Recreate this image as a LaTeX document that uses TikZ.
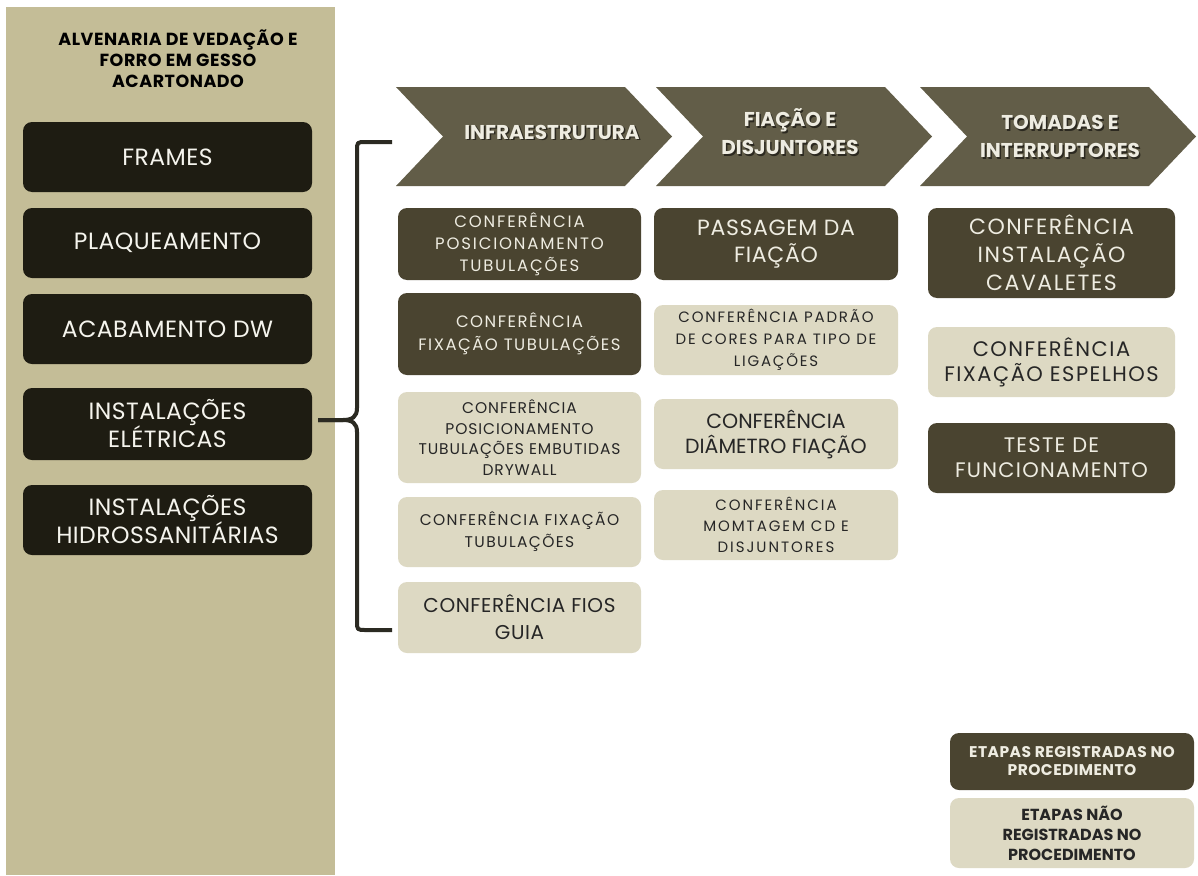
\documentclass[tikz,border=0pt]{standalone}
\usepackage{fontspec}
\setmainfont{Poppins}
\usetikzlibrary{calc}

\definecolor{panel}{HTML}{C4BD97}
\definecolor{ink}{HTML}{1E1C12}
\definecolor{olive}{HTML}{4A4430}
\definecolor{sand}{HTML}{DDD9C3}
\definecolor{chevron}{HTML}{625D48}
\definecolor{cream}{HTML}{EEECE1}
\definecolor{textdark}{HTML}{262626}
\definecolor{bracecol}{HTML}{2B2A22}

\tikzset{
  box/.style={rounded corners=9pt, inner sep=0pt, align=center},
  inkbox/.style={box, fill=ink, text=cream!60!white},
  regbox/.style={box, fill=olive, text=cream},
  nregbox/.style={box, fill=sand, text=textdark},
  sz/.style n args={3}{font=\fontsize{#1}{#2}\selectfont\addfontfeature{LetterSpace=#3}},
  bsz/.style n args={3}{font=\fontsize{#1}{#2}\selectfont\bfseries\addfontfeature{LetterSpace=#3}},
  wh/.style 2 args={minimum width=#1, minimum height=#2},
  hdr/.style={align=center, inner sep=0pt, text=cream,
    font=\fontsize{20}{28}\selectfont\bfseries},
  hdrshadow/.style={hdr, text=black, opacity=0.55},
  bracket/.style={draw=bracecol, line width=4pt, line join=round}
}

\begin{document}
\begin{tikzpicture}[x=1pt, y=-1pt]
  % canvas
  \fill[white] (0,0) rectangle (1198,875);
  \useasboundingbox (0,0) rectangle (1198,875);

  % left panel
  \fill[panel] (6,7) rectangle (335,875);
  \node[align=center, inner sep=0pt, bsz={17.5}{21}{3}, text=black]
    (ptitle) at (178,59) {ALVENARIA DE VEDAÇÃO E\\FORRO EM GESSO\\ACARTONADO};

  \node[inkbox, wh={289}{70}, sz={23.5}{28}{2}] (frames) at (167.5,157) {FRAMES};
  \node[inkbox, wh={289}{70}, sz={23.5}{28}{2}] (plaq)   at (167.5,243) {PLAQUEAMENTO};
  \node[inkbox, wh={289}{70}, sz={23.5}{28}{2}] (acab)   at (167.5,329) {ACABAMENTO DW};
  \node[inkbox, wh={289}{72}, sz={23.5}{28}{2}] (elet)   at (167.5,424) {INSTALAÇÕES\\ELÉTRICAS};
  \node[inkbox, wh={289}{70}, sz={23.5}{28}{2}] (hidro)  at (167.5,520) {INSTALAÇÕES\\HIDROSSANITÁRIAS};

  % chevrons
  \foreach \cx in {396,656,920}{
    \fill[chevron] (\cx,87) -- (\cx+229,87) -- (\cx+276,136.5) -- (\cx+229,186)
      -- (\cx,186) -- (\cx+47,136.5) -- cycle;
  }
  \node[hdrshadow] at (553.5,133.5) {INFRAESTRUTURA};
  \node[hdr] (infra) at (552,132) {INFRAESTRUTURA};
  \node[hdrshadow] at (791.5,133.5) {FIAÇÃO E\\DISJUNTORES};
  \node[hdr] (fiac) at (790,132) {FIAÇÃO E\\DISJUNTORES};
  \node[hdrshadow] at (1061.5,138) {TOMADAS E\\INTERRUPTORES};
  \node[hdr] (tomad) at (1060,136.5) {TOMADAS E\\INTERRUPTORES};

  % bracket from the electrical item to the three stages
  \coordinate (btop) at (392,142);
  \coordinate (bbot) at (392,630);
  \coordinate (btip) at ($(elet.east)+(6,-4)$);
  \draw[bracket] (btop) -- (366,142) .. controls (357,142) .. (357,151)
    -- (357,408) .. controls (357,417) and (352,420) .. (343,420) -- (btip);
  \draw[bracket] (btip) -- (343,420) .. controls (352,420) and (357,423) .. (357,432)
    -- (357,621) .. controls (357,630) .. (366,630) -- (bbot);

  % infrastructure column
  \node[regbox, wh={243}{72}, sz={16.5}{22}{11}] (i1) at (519.5,244) {CONFERÊNCIA\\POSICIONAMENTO\\TUBULAÇÕES};
  \node[regbox, wh={243}{82}, sz={16.5}{23}{9}] (i2) at (519.5,334) {CONFERÊNCIA\\FIXAÇÃO TUBULAÇÕES};
  \node[nregbox, wh={243}{91}, sz={15.5}{20.5}{6}] (i3) at (519.5,437.5) {CONFERÊNCIA\\POSICIONAMENTO\\TUBULAÇÕES EMBUTIDAS\\DRYWALL};
  \node[nregbox, wh={243}{70}, sz={15.5}{22}{9}] (i4) at (519.5,532) {CONFERÊNCIA FIXAÇÃO\\TUBULAÇÕES};
  \node[nregbox, wh={243}{71}, sz={20}{27}{3}] (i5) at (519.5,617.5) {CONFERÊNCIA FIOS\\GUIA};

  % wiring column
  \node[regbox, wh={244}{72}, sz={22}{27}{3}] (f1) at (776,244) {PASSAGEM DA\\FIAÇÃO};
  \node[nregbox, wh={244}{70}, sz={15}{22}{12}] (f2) at (776,340) {CONFERÊNCIA PADRÃO\\DE CORES PARA TIPO DE\\LIGAÇÕES};
  \node[nregbox, wh={244}{70}, sz={20.5}{25}{0}] (f3) at (776,434) {CONFERÊNCIA\\DIÂMETRO FIAÇÃO};
  \node[nregbox, wh={244}{70}, sz={15}{21}{13}] (f4) at (776,525) {CONFERÊNCIA\\MOMTAGEM CD E\\DISJUNTORES};

  % sockets and switches column
  \node[regbox, wh={247}{90}, sz={22}{28}{7}] (t1) at (1051.5,253) {CONFERÊNCIA\\INSTALAÇÃO\\CAVALETES};
  \node[nregbox, wh={247}{70}, sz={21}{25}{7}] (t2) at (1051.5,362) {CONFERÊNCIA\\FIXAÇÃO ESPELHOS};
  \node[regbox, wh={247}{70}, sz={21}{25}{6}] (t3) at (1051.5,458) {TESTE DE\\FUNCIONAMENTO};

  % legend
  \node[regbox, wh={244}{57}, bsz={15.5}{18}{3}] (lreg) at (1072,761.5)
    {ETAPAS REGISTRADAS NO\\PROCEDIMENTO};
  \node[nregbox, wh={244}{70}, bsz={16}{20}{0}] (lnreg) at (1072,833)
    {ETAPAS NÃO\\REGISTRADAS NO\\PROCEDIMENTO};
\end{tikzpicture}
\end{document}
